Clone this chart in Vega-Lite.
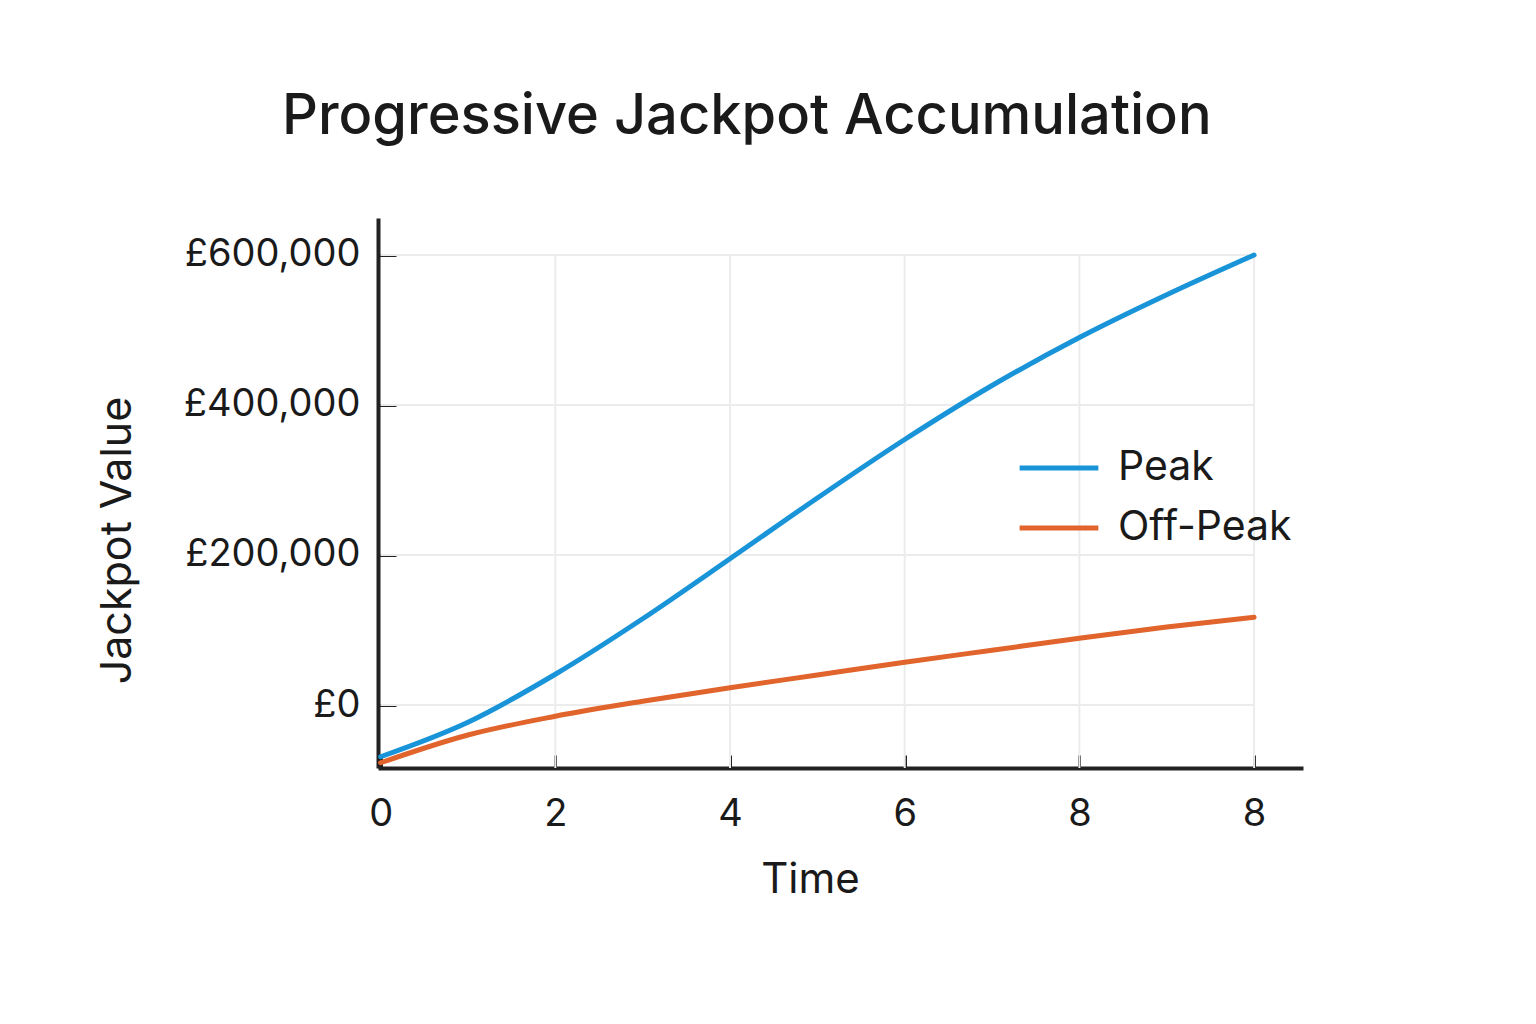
{
  "$schema": "https://vega.github.io/schema/vega-lite/v6.json",
  "width": 925,
  "height": 550,
  "autosize": {"type": "none"},
  "padding": {"left": 378, "top": 218, "right": 233, "bottom": 256},
  "background": "white",
  "title": {
    "text": "Progressive Jackpot Accumulation",
    "anchor": "start",
    "frame": "group",
    "dx": -96,
    "offset": 72,
    "fontSize": 56,
    "font": "Inter",
    "fontWeight": 500,
    "color": "#1a1a1a"
  },
  "datasets": {
    "jackpot": [
      {"time": 0, "value": -69000, "series": "Peak"},
      {"time": 1, "value": -23000, "series": "Peak"},
      {"time": 2, "value": 41000, "series": "Peak"},
      {"time": 3, "value": 115000, "series": "Peak"},
      {"time": 4, "value": 195000, "series": "Peak"},
      {"time": 5, "value": 276000, "series": "Peak"},
      {"time": 6, "value": 354000, "series": "Peak"},
      {"time": 7, "value": 426000, "series": "Peak"},
      {"time": 8, "value": 490000, "series": "Peak"},
      {"time": 9, "value": 547000, "series": "Peak"},
      {"time": 10, "value": 600000, "series": "Peak"},
      {"time": 0, "value": -77000, "series": "Off-Peak"},
      {"time": 1, "value": -40000, "series": "Off-Peak"},
      {"time": 2, "value": -15000, "series": "Off-Peak"},
      {"time": 3, "value": 5000, "series": "Off-Peak"},
      {"time": 4, "value": 23000, "series": "Off-Peak"},
      {"time": 5, "value": 40000, "series": "Off-Peak"},
      {"time": 6, "value": 57000, "series": "Off-Peak"},
      {"time": 7, "value": 73000, "series": "Off-Peak"},
      {"time": 8, "value": 89000, "series": "Off-Peak"},
      {"time": 9, "value": 104000, "series": "Off-Peak"},
      {"time": 10, "value": 117000, "series": "Off-Peak"}
    ],
    "xgrid": [{"x": 2}, {"x": 4}, {"x": 6}, {"x": 8}, {"x": 10}],
    "ygrid": [{"y": 0}, {"y": 200000}, {"y": 400000}, {"y": 600000}]
  },
  "layer": [
    {
      "data": {"name": "xgrid"},
      "mark": {"type": "rule", "color": "#ececec", "strokeWidth": 2},
      "encoding": {
        "x": {"field": "x", "type": "quantitative", "scale": {"domain": [-0.03, 10.56], "nice": false, "zero": false}},
        "y": {"datum": 600000, "type": "quantitative"},
        "y2": {"datum": -84000}
      }
    },
    {
      "data": {"name": "ygrid"},
      "mark": {"type": "rule", "color": "#ececec", "strokeWidth": 2},
      "encoding": {
        "y": {"field": "y", "type": "quantitative"},
        "x": {"datum": 0, "type": "quantitative"},
        "x2": {"datum": 10}
      }
    },
    {
      "data": {"name": "jackpot"},
      "mark": {"type": "line", "strokeWidth": 5, "interpolate": "monotone", "strokeCap": "round"},
      "encoding": {
        "x": {
          "field": "time",
          "type": "quantitative",
          "title": "Time",
          "scale": {"domain": [-0.03, 10.56], "nice": false, "zero": false},
          "axis": {
            "values": [0, 2, 4, 6, 8, 10],
            "labelExpr": "datum.value == 10 ? '8' : format(datum.value, 'd')",
            "grid": false,
            "tickSize": -13,
            "labelPadding": 40,
            "titlePadding": 26,
            "titleX": 432,
            "titleAlign": "center"
          }
        },
        "y": {
          "field": "value",
          "type": "quantitative",
          "title": "Jackpot Value",
          "scale": {"domain": [-84000, 649333], "nice": false, "zero": false},
          "axis": {
            "values": [0, 200000, 400000, 600000],
            "labelExpr": "'£' + format(datum.value, ',')",
            "grid": false,
            "tickSize": -18,
            "labelPadding": 36,
            "titlePadding": 44,
            "titleFontSize": 43,
            "titleY": 322
          }
        },
        "color": {
          "field": "series",
          "type": "nominal",
          "sort": ["Peak", "Off-Peak"],
          "scale": {"domain": ["Peak", "Off-Peak"], "range": ["#1a94d9", "#e0642c"]},
          "legend": {
            "title": null,
            "orient": "none",
            "legendX": 647,
            "legendY": 216,
            "symbolType": "M-1.25,0H1.25",
            "symbolSize": 3969,
            "symbolStrokeWidth": 5,
            "labelFontSize": 41,
            "labelOffset": 25,
            "labelLimit": 0,
            "rowPadding": 6
          }
        }
      }
    }
  ],
  "config": {
    "font": "Inter",
    "view": {"stroke": null},
    "axis": {
      "domainColor": "#222222",
      "domainWidth": 4,
      "tickColor": "#222222",
      "tickWidth": 3,
      "labelFont": "Inter",
      "labelFontSize": 38,
      "labelColor": "#1a1a1a",
      "titleFont": "Inter",
      "titleFontSize": 42,
      "titleFontWeight": 400,
      "titleColor": "#1a1a1a"
    },
    "legend": {
      "labelFont": "Inter",
      "labelColor": "#1a1a1a"
    }
  }
}
